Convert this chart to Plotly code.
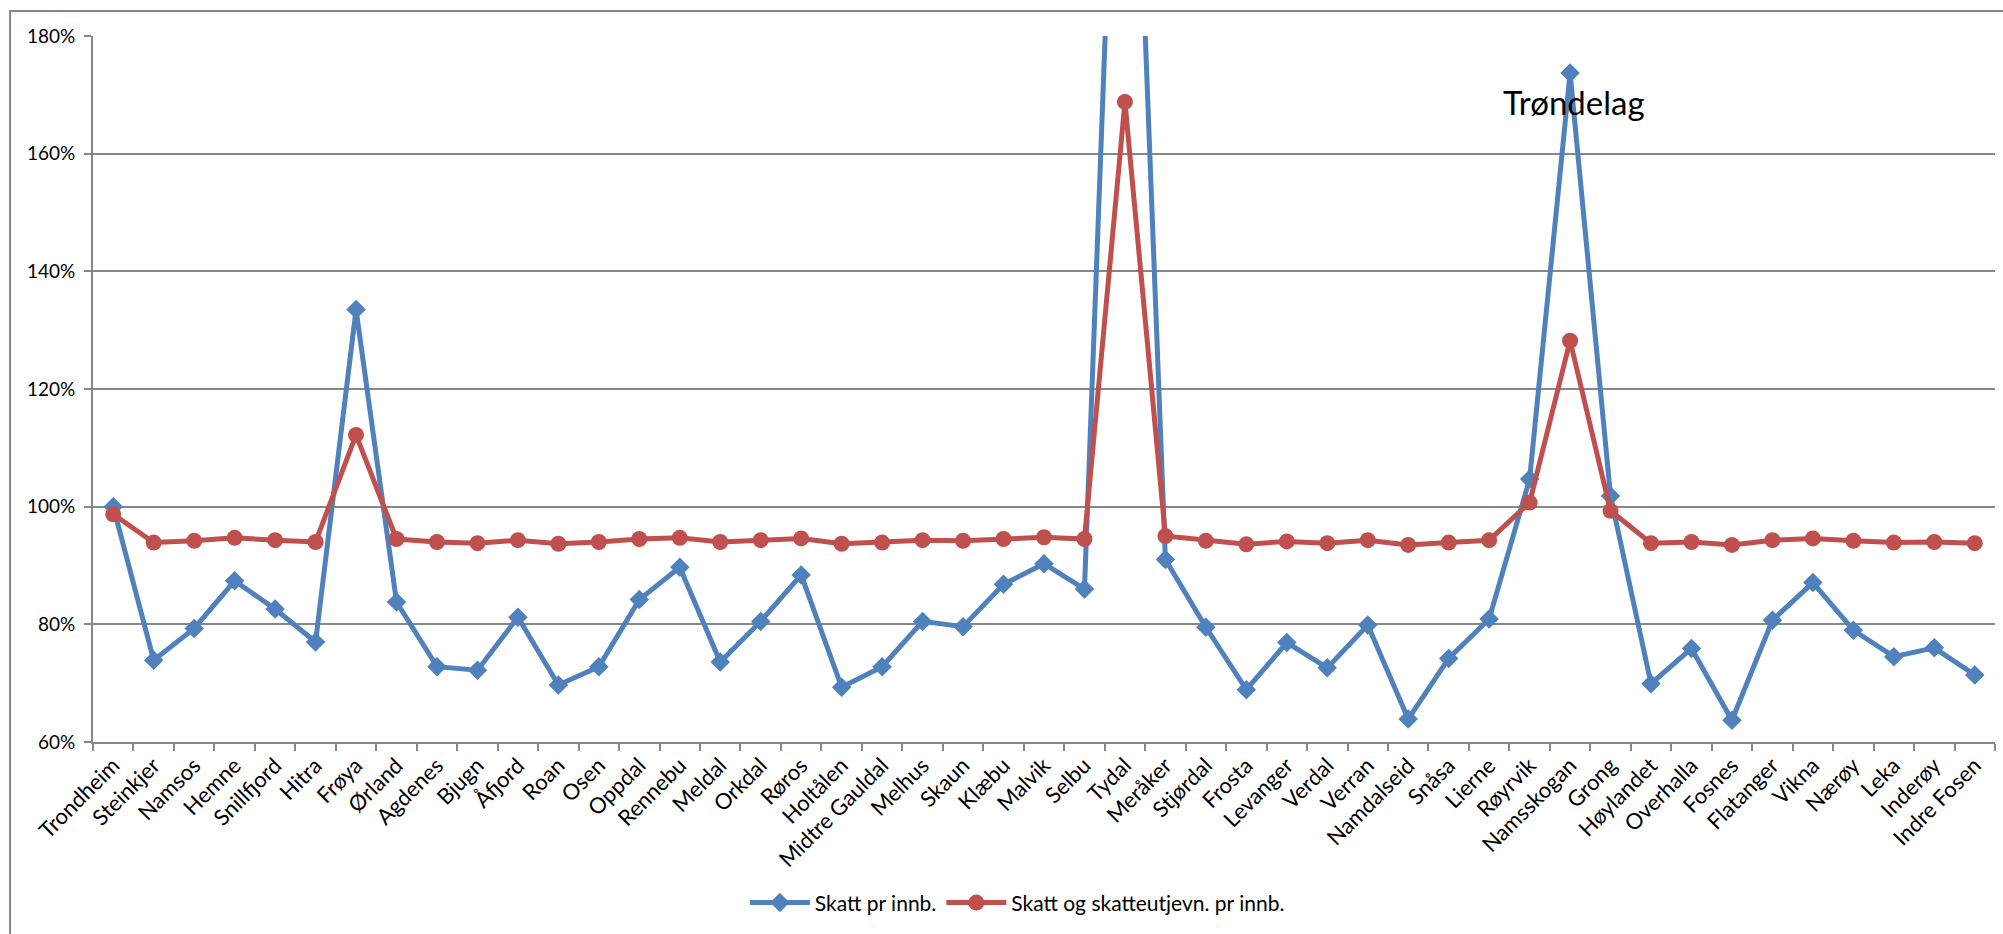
import plotly.graph_objects as go

kommuner = ["Trondheim", "Steinkjer", "Namsos", "Hemne", "Snillfjord", "Hitra", "Frøya", "Ørland",
            "Agdenes", "Bjugn", "Åfjord", "Roan", "Osen", "Oppdal", "Rennebu", "Meldal", "Orkdal",
            "Røros", "Holtålen", "Midtre Gauldal", "Melhus", "Skaun", "Klæbu", "Malvik", "Selbu",
            "Tydal", "Meråker", "Stjørdal", "Frosta", "Levanger", "Verdal", "Verran", "Namdalseid",
            "Snåsa", "Lierne", "Røyrvik", "Namsskogan", "Grong", "Høylandet", "Overhalla", "Fosnes",
            "Flatanger", "Vikna", "Nærøy", "Leka", "Inderøy", "Indre Fosen"]

skatt = [100.0, 73.9, 79.3, 87.4, 82.6, 77.0, 133.5, 83.8,
         72.8, 72.2, 81.2, 69.7, 72.8, 84.2, 89.7, 73.6, 80.5,
         88.4, 69.3, 72.8, 80.5, 79.6, 86.8, 90.3, 86.0,
         270.0, 91.0, 79.5, 68.9, 76.9, 72.6, 79.9, 63.9,
         74.2, 80.9, 104.7, 173.7, 101.8, 69.9, 75.9, 63.7,
         80.7, 87.1, 79.0, 74.5, 76.0, 71.4]

skatt_utj = [98.7, 93.9, 94.2, 94.7, 94.3, 94.0, 112.2, 94.5,
             94.0, 93.8, 94.3, 93.7, 94.0, 94.5, 94.7, 94.0, 94.3,
             94.6, 93.7, 93.9, 94.3, 94.2, 94.5, 94.8, 94.5,
             168.8, 95.0, 94.2, 93.6, 94.1, 93.8, 94.3, 93.5,
             93.9, 94.3, 100.7, 128.2, 99.3, 93.8, 94.0, 93.5,
             94.3, 94.6, 94.2, 93.9, 94.0, 93.8]

y_ticks = [60, 80, 100, 120, 140, 160, 180]
y_labels = [f"{v}%" for v in y_ticks]

BLUE = "#4F81BD"
RED = "#C0504D"
GRID = "#888888"
FONT = "Lato"

fig = go.Figure()
fig.add_trace(go.Scatter(
    x=kommuner, y=skatt, mode="lines+markers", name="Skatt pr innb.",
    line=dict(color=BLUE, width=5),
    marker=dict(symbol="diamond", size=15, color=BLUE),
))
fig.add_trace(go.Scatter(
    x=kommuner, y=skatt_utj, mode="lines+markers", name="Skatt og skatteutjevn. pr innb.",
    line=dict(color=RED, width=5),
    marker=dict(symbol="circle", size=16, color=RED),
))

fig.update_layout(
    width=2003, height=934,
    margin=dict(l=93, r=8, t=36, b=192, autoexpand=False),
    paper_bgcolor="white", plot_bgcolor="white",
    font=dict(family=FONT, size=19, color="#000000"),
    showlegend=True,
    legend=dict(orientation="h", x=0.486, xanchor="center", y=-0.228, yanchor="middle",
                font=dict(family=FONT, size=21, color="#000000"),
                itemwidth=60, traceorder="normal"),
    xaxis=dict(type="category", tickangle=-45, tickson="boundaries", ticks="outside",
               ticklen=7, tickcolor=GRID, tickwidth=2,
               showline=True, linecolor=GRID, linewidth=2,
               showgrid=False, tickfont=dict(family=FONT, size=22, color="#000000"),
               range=[-0.5, len(kommuner) - 0.5], fixedrange=True),
    yaxis=dict(range=[60, 180], tickvals=y_ticks, ticktext=y_labels,
               ticks="outside", ticklen=7, tickcolor=GRID, tickwidth=2,
               showline=True, linecolor=GRID, linewidth=2, ticklabelstandoff=5,
               showgrid=True, gridcolor=GRID, gridwidth=2, zeroline=False,
               tickfont=dict(family=FONT, size=19, color="#000000")),
    annotations=[dict(text="Trøndelag", x=36.1, y=168.8, xref="x", yref="y",
                      showarrow=False, font=dict(family=FONT, size=33, color="#000000"))],
    shapes=[dict(type="rect", xref="paper", yref="paper",
                 x0=-0.0436, x1=1.2, y0=-0.6, y1=1.0354,
                 line=dict(color=GRID, width=2), fillcolor="rgba(0,0,0,0)", layer="below")],
)

fig.write_html("out.html", config={"displayModeBar": False},
               post_script="document.body.style.margin='0';document.body.style.overflow='hidden';")
